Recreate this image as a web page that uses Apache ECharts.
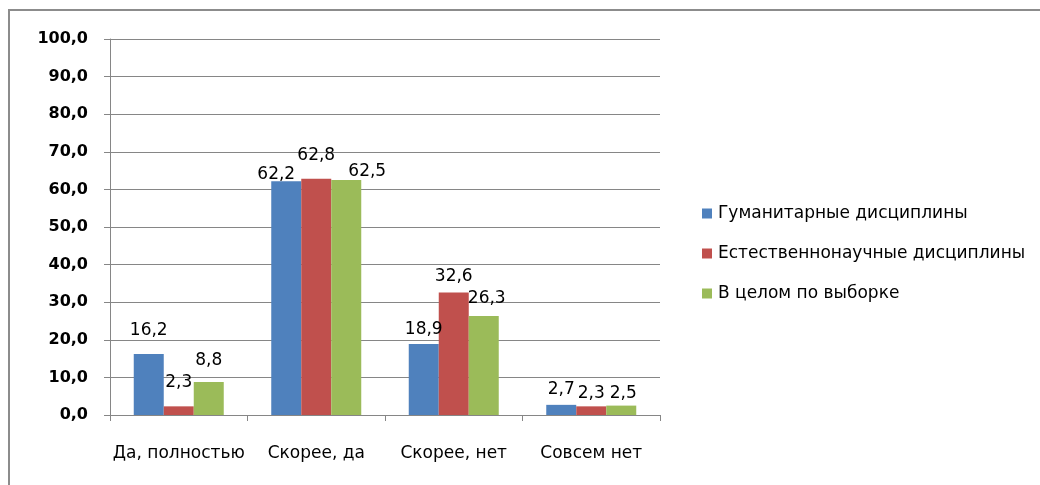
<!DOCTYPE html>
<html>
<head>
<meta charset="utf-8">
<script src="https://cdn.jsdelivr.net/npm/echarts@6/dist/echarts.min.js"></script>
<style>
  html, body { margin: 0; padding: 0; background: #fff; overflow: hidden; }
  .frame {
    position: absolute; left: 8px; top: 9px; width: 1200px; height: 600px;
    border-left: 2px solid #8c8c8c; border-top: 2px solid #8c8c8c;
  }
  #chart { position: absolute; left: 0; top: 0; width: 1040px; height: 485px; }
</style>
</head>
<body>
<div class="frame"></div>
<div id="chart"></div>
<script>
const categories = ['Да, полностью', 'Скорее, да', 'Скорее, нет', 'Совсем нет']
const seriesNames = ['Гуманитарные дисциплины', 'Естественнонаучные дисциплины', 'В целом по выборке']
const humanities = [16.2, 62.2, 18.9, 2.7]
const sciences = [2.3, 62.8, 32.6, 2.3]
const overall = [8.8, 62.5, 26.3, 2.5]
const colors = ['#4F81BD', '#C0504D', '#9BBB59']

// сдвиги подписей как в Excel (dx, dy)
const labelNudge = [
  [[0, -9], [-10, 8], [0, 0], [0, -1]],
  [[0, -9], [0, -9], [0, -1], [0, 2]],
  [[0, -7], [21, 6], [3, -3], [2, 2]]
]

const fmt = v => v.toFixed(1).replace('.', ',')
const font = 'DejaVu Sans'

function makeSeries(name, values, idx) {
  return {
    name,
    type: 'bar',
    barWidth: 30,
    barGap: '0%',
    itemStyle: { color: colors[idx] },
    data: values.map((v, i) => ({
      value: v,
      label: { offset: labelNudge[idx][i] }
    })),
    label: {
      show: true,
      position: 'top',
      distance: 6,
      formatter: p => fmt(p.value),
      color: '#000',
      fontFamily: font,
      fontSize: 17
    }
  }
}

const chart = echarts.init(document.getElementById('chart'))
chart.setOption({
  animation: false,
  grid: { left: 110, top: 39, right: 380, bottom: 70 },
  legend: {
    orient: 'vertical',
    left: 702,
    top: 205,
    padding: 0,
    itemWidth: 10,
    itemHeight: 10,
    itemGap: 23,
    icon: 'rect',
    textStyle: { color: '#000', fontFamily: font, fontSize: 17, padding: [0, 0, 0, 1] },
    data: seriesNames
  },
  xAxis: {
    type: 'category',
    data: categories,
    axisLine: { lineStyle: { color: '#868686', width: 1 } },
    axisTick: { show: true, length: 6, lineStyle: { color: '#868686' } },
    axisLabel: { color: '#000', fontFamily: font, fontSize: 17, margin: 30, interval: 0 }
  },
  yAxis: {
    type: 'value',
    min: 0,
    max: 100,
    interval: 10,
    axisLine: { show: true, lineStyle: { color: '#868686', width: 1 } },
    axisTick: { show: true, length: 6, lineStyle: { color: '#868686' } },
    axisLabel: { color: '#000', fontFamily: font, fontSize: 16, fontWeight: 'bold', margin: 22, formatter: fmt },
    splitLine: { lineStyle: { color: '#868686', width: 1 } }
  },
  series: [
    makeSeries(seriesNames[0], humanities, 0),
    makeSeries(seriesNames[1], sciences, 1),
    makeSeries(seriesNames[2], overall, 2)
  ]
})
</script>
</body>
</html>
